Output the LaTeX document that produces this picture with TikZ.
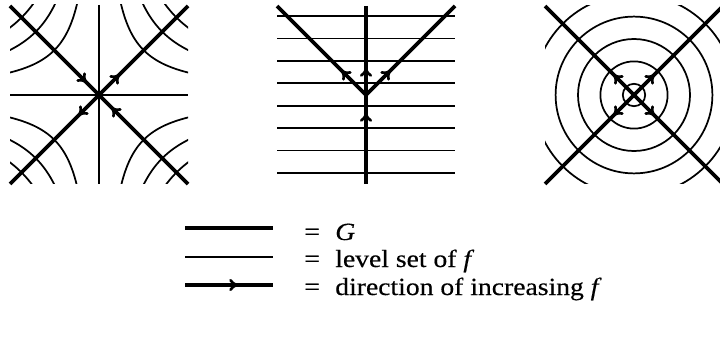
\documentclass[tikz,border=0pt]{standalone}
\usepackage{fontspec}
\setmainfont{Liberation Serif}[FakeStretch=1.12,FakeBold=0.4]
\usetikzlibrary{arrows.meta,calc}
\tikzset{
  gline/.style={line width=2.7pt},
  lev/.style={line width=1.3pt},
  chev/.pic={\draw[line width=2pt, line cap=round, line join=round]
     (-5.5,4.8) .. controls (-4.2,2.6) and (-2.2,1.0) .. (0.5,0)
     .. controls (-2.2,-1.0) and (-4.2,-2.6) .. (-5.5,-4.8);},
  lbl/.style={inner sep=0pt, anchor=base west, font=\fontsize{18.5}{22}\selectfont}
}
\begin{document}
\begin{tikzpicture}[x=0.75pt,y=-0.75pt]
\useasboundingbox (0,0) rectangle (720,338);
% ---------- panel 1 ----------
\coordinate (c1) at (99,95);
\begin{scope}
\clip (10,5) rectangle (188,184);
\foreach \s in {44.72,63.25,77.46}{
  \foreach \a/\b in {1/1,1/-1,-1/1,-1/-1}{
    \draw[lev] plot[domain=-1.4:1.4, samples=80, smooth, variable=\t]
      ({99+\a*\s*exp(\t)}, {95+\b*\s*exp(-\t)});
  }
}
\end{scope}
\draw[lev] (10,95) -- (188,95);
\draw[lev] (99,5) -- (99,184);
\draw[gline] (10,6) -- (188,184);
\draw[gline] (188,6) -- (10,184);
\pic[rotate=-45] at ($(c1)+(-14,-14)$) {chev};
\pic[rotate=135] at ($(c1)+(14,14)$) {chev};
\pic[rotate=45] at ($(c1)+(19,-19)$) {chev};
\pic[rotate=225] at ($(c1)+(-19,19)$) {chev};
% ---------- panel 2 ----------
\coordinate (v2) at (366,95);
\foreach \i in {0,...,7}{
  \draw[lev] (277,{16+22.43*\i}) -- (455,{16+22.43*\i});
}
\draw[gline] (366,6) -- (366,184);
\draw[gline] (277,6) -- (v2) -- (455,6);
\pic[rotate=135] at ($(v2)+(-23,-23)$) {chev};
\pic[rotate=45] at ($(v2)+(23,-23)$) {chev};
\pic[rotate=90] at ($(v2)+(0,-25)$) {chev};
\pic[rotate=90] at ($(v2)+(0,20)$) {chev};
% ---------- panel 3 ----------
\coordinate (c3) at (634,95);
\begin{scope}
\clip (545,6) rectangle (723,184);
\foreach \r in {11.2,33.6,56,78.4,100.8}{
  \draw[lev] (c3) circle[radius=\r];
}
\end{scope}
\draw[gline] (545,6) -- (723,184);
\draw[gline] (723,6) -- (545,184);
\pic[rotate=135] at ($(c3)+(-19,-19)$) {chev};
\pic[rotate=45] at ($(c3)+(19,-19)$) {chev};
\pic[rotate=225] at ($(c3)+(-19,19)$) {chev};
\pic[rotate=-45] at ($(c3)+(19,19)$) {chev};
% ---------- legend ----------
\draw[gline] (185,228) -- (273,228);
\draw[lev] (185,257) -- (273,257);
\draw[gline] (185,285) -- (273,285);
\pic at (236,285) {chev};
\node[lbl] (e1) at (304,240) {=};
\node[lbl] (t1) at (335,240) {\textit{G}};
\node[lbl] (e2) at (304,267) {=};
\node[lbl] (t2) at (335,267) {level set of \textit{f}};
\node[lbl] (e3) at (304,295) {=};
\node[lbl] (t3) at (335,295) {direction of increasing \textit{f}};
\end{tikzpicture}
\end{document}
